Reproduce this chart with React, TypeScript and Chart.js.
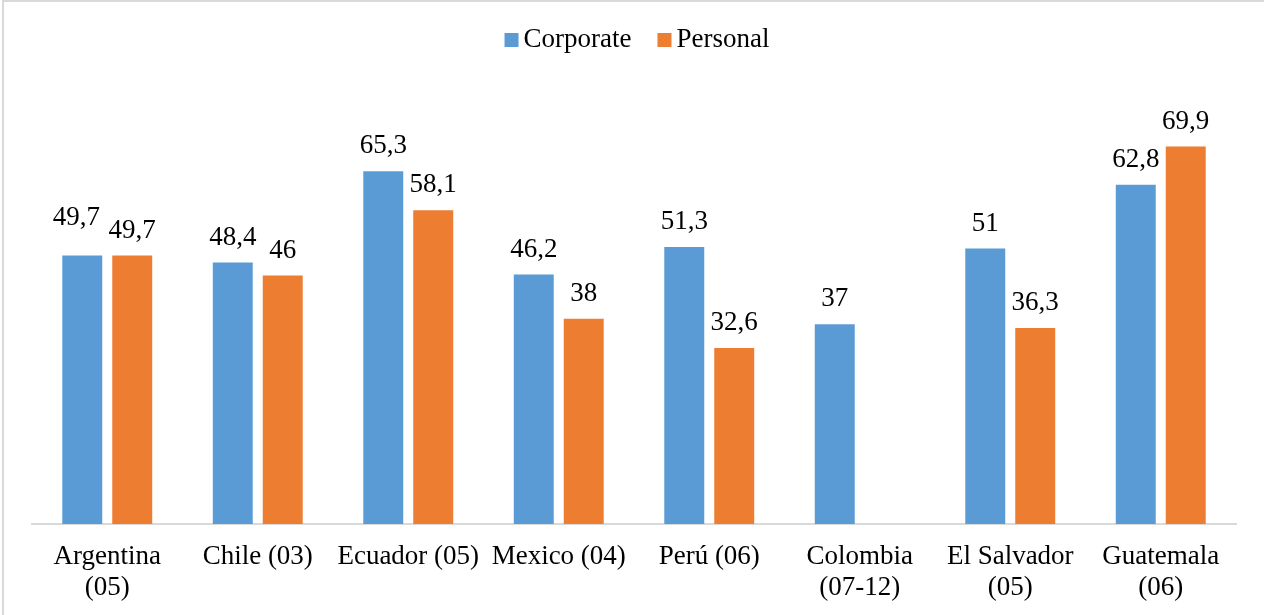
import React, { useEffect, useRef } from 'react';
import { Chart, registerables } from 'chart.js';

Chart.register(...registerables);

const categories: (string | string[])[] = [
  ['Argentina', '(05)'],
  'Chile (03)',
  'Ecuador (05)',
  'Mexico (04)',
  'Perú (06)',
  ['Colombia', '(07-12)'],
  ['El Salvador', '(05)'],
  ['Guatemala', '(06)'],
];
const corporate: (number | null)[] = [49.7, 48.4, 65.3, 46.2, 51.3, 37, 51, 62.8];
const personal: (number | null)[] = [49.7, 46, 58.1, 38, 32.6, null, 36.3, 69.9];
const seriesNames = ['Corporate', 'Personal'];
const seriesColors = ['#5B9BD5', '#ED7D31'];

const FONT = "'Liberation Serif', 'Times New Roman', serif";
const FS = 27;

const valueLabelPlugin = {
  id: 'valueLabels',
  afterDatasetsDraw(chart: any) {
    const ctx = chart.ctx;
    ctx.save();
    ctx.font = `${FS}px ${FONT}`;
    ctx.fillStyle = '#000';
    ctx.textAlign = 'center';
    ctx.textBaseline = 'middle';
    chart.data.datasets.forEach((ds: any, di: number) => {
      const meta = chart.getDatasetMeta(di);
      meta.data.forEach((el: any, i: number) => {
        const v = ds.data[i];
        if (v === null || v === undefined) return;
        let dx = 0;
        let dy = 0;
        if (di === 0 && i === 0) { dx = -6; dy = -13; }
        ctx.fillText(String(v).replace('.', ','), el.x + dx, el.y - 25 + dy);
      });
    });
    ctx.restore();
  },
};

const legendPlugin = {
  id: 'customLegend',
  afterDraw(chart: any) {
    const ctx = chart.ctx;
    ctx.save();
    ctx.font = `${FS}px ${FONT}`;
    ctx.textBaseline = 'middle';
    ctx.textAlign = 'left';
    const box = 14;
    const gapText = 5;
    const gapItem = 26;
    const widths = seriesNames.map((n) => box + gapText + ctx.measureText(n).width);
    const total = widths.reduce((a, b) => a + b, 0) + gapItem * (seriesNames.length - 1);
    const cx = (chart.chartArea.left + chart.chartArea.right) / 2 + 3;
    let x = cx - total / 2;
    const cy = 40;
    seriesNames.forEach((n, i) => {
      ctx.fillStyle = seriesColors[i];
      ctx.fillRect(x, cy - box / 2, box, box);
      ctx.fillStyle = '#000';
      ctx.fillText(n, x + box + gapText, cy);
      x += widths[i] + gapItem;
    });
    ctx.restore();
  },
};

export default function App() {
  const ref = useRef<HTMLCanvasElement | null>(null);
  useEffect(() => {
    if (!ref.current) return;
    const chart = new Chart(ref.current, {
      type: 'bar',
      data: {
        labels: categories,
        datasets: [
          { label: seriesNames[0], data: corporate, backgroundColor: seriesColors[0], categoryPercentage: 0.664, barPercentage: 0.8 },
          { label: seriesNames[1], data: personal, backgroundColor: seriesColors[1], categoryPercentage: 0.664, barPercentage: 0.8 },
        ],
      },
      options: {
        responsive: false,
        animation: false,
        layout: { padding: { left: 32, right: 28, top: 92, bottom: 0 } },
        plugins: {
          legend: { display: false },
          tooltip: { enabled: false },
        },
        scales: {
          x: {
            grid: { display: false, drawTicks: false },
            border: { display: true, color: '#D9D9D9', width: 2 },
            ticks: {
              color: '#000',
              font: { family: FONT, size: FS, lineHeight: 1.15 },
              padding: 17,
              maxRotation: 0,
              autoSkip: false,
            },
          },
          y: {
            display: false,
            min: 0,
            max: 80,
          },
        },
      },
      plugins: [valueLabelPlugin, legendPlugin],
    });
    return () => chart.destroy();
  }, []);

  return (
    <div style={{ position: 'absolute', left: 0, top: 0, width: 1264, height: 615, background: '#fff', overflow: 'hidden' }}>
      <canvas ref={ref} width={1264} height={620} style={{ display: 'block' }} />
      <div style={{ position: 'absolute', left: 2, top: 0, width: 2, height: 615, background: '#D9D9D9' }} />
      <div style={{ position: 'absolute', left: 2, top: 0, width: 1262, height: 2, background: '#D9D9D9' }} />
    </div>
  );
}
